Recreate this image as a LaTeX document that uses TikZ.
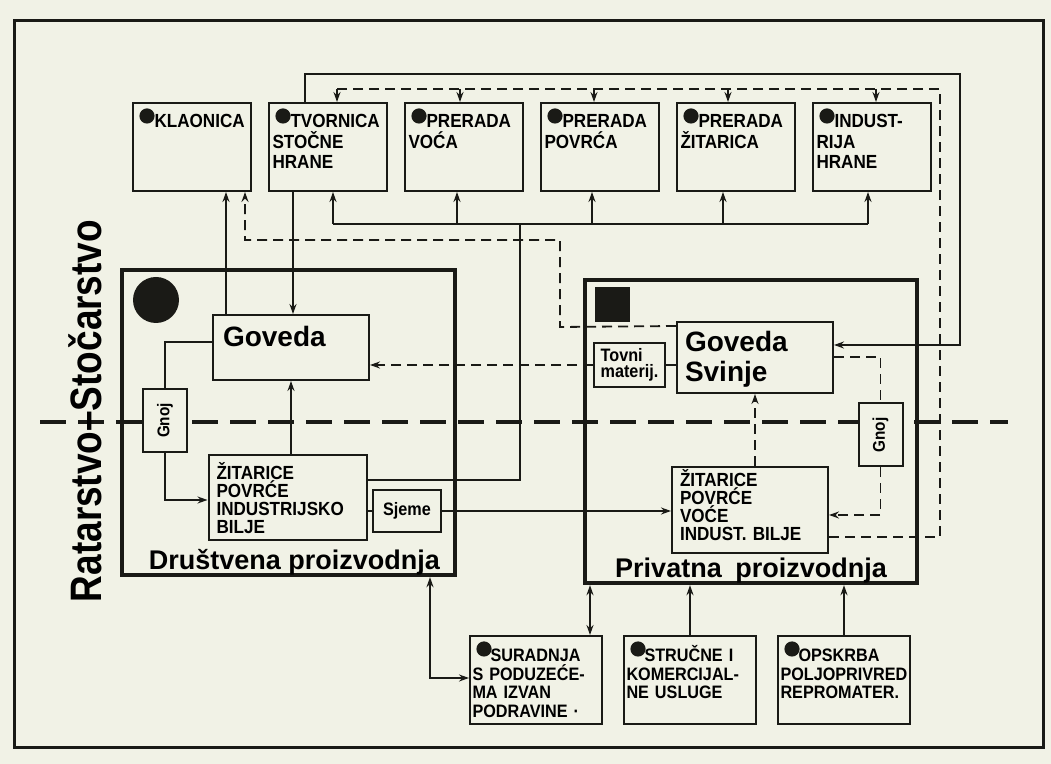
\documentclass[tikz,border=0pt]{standalone}
\usepackage{fontspec}
\setmainfont{Liberation Sans}
\newfontfamily\narrowsf[FakeStretch=0.9]{Liberation Sans}
\newfontfamily\tallsf[FakeStretch=0.84]{Liberation Sans}
\usepackage{xcolor}
\usetikzlibrary{arrows.meta,positioning,calc}
\definecolor{inkDark}  {RGB}{26,26,22}
\definecolor{paperTone}{RGB}{241,242,230}
\newcommand{\dotgap}{\hspace*{9pt}}

\begin{document}
\begin{tikzpicture}[x=0.5pt, y=-0.5pt,
      node distance=8pt and 8pt,
      withdot/.style={path picture={\fill[inkDark]
          ([xshift=7pt,yshift=-6.5pt]path picture bounding box.north west) circle (3.8pt);}},
      proc/.style={draw=inkDark, line width=1pt, withdot, align=left,
                   text width=55.5pt, inner xsep=1.75pt, inner ysep=2pt,
                   text height=10.5pt, text depth=29.5pt,
                   font=\narrowsf\bfseries\fontsize{9.5}{10.25}\selectfont},
      serv/.style={proc, text width=63.5pt, inner xsep=1.25pt,
                   text height=11pt, text depth=29pt,
                   font=\narrowsf\bfseries\fontsize{9}{9.25}\selectfont},
      herd/.style={draw=inkDark, line width=1pt, align=left, text width=68pt,
                   inner xsep=5pt, inner ysep=2pt,
                   font=\bfseries\fontsize{14}{15}\selectfont},
      crop/.style={draw=inkDark, line width=1pt, align=left, text width=71pt,
                   inner xsep=4pt, inner ysep=2pt,
                   font=\narrowsf\bfseries\fontsize{9.5}{9}\selectfont},
      heap/.style={draw=inkDark, line width=1pt, fill=paperTone, inner sep=0pt,
                   minimum width=22pt, minimum height=31.5pt,
                   font=\narrowsf\bfseries\fontsize{8.5}{10}\selectfont},
      small/.style={draw=inkDark, line width=1pt, inner sep=2pt, align=left,
                    font=\narrowsf\bfseries\fontsize{9}{8}\selectfont},
      sector/.style={draw=inkDark, line width=2.2pt, inner sep=0pt},
      title/.style={anchor=south, inner sep=1pt, font=\bfseries\fontsize{13.5}{15}\selectfont},
      link/.style={draw=inkDark, line width=0.9pt},
      dlink/.style={link, dash pattern=on 5pt off 3pt},
      tip/.style={-{Stealth[length=5pt,width=3.5pt]}},
      both/.style={{Stealth[length=5pt,width=3.5pt]}-{Stealth[length=5pt,width=3.5pt]}},
      divide/.style={draw=inkDark, line width=1.8pt, dash pattern=on 13pt off 6pt}]

    \path[use as bounding box, fill=paperTone] (0,0) rectangle (1051,764);
    \draw[inkDark, line width=1.5pt] (14,21) rectangle (1043,748);
    \draw[divide] (40,422) -- (1008,422);

    \node[rotate=90, inner sep=0pt, font=\tallsf\bfseries\fontsize{22}{24}\selectfont]
      (rs) at (85,411) {Ratarstvo–Stočarstvo};

    \node[proc] (kla) at (192,147) {\dotgap KLAONICA};
    \node[proc, right=of kla] (tvo) {\dotgap TVORNICA\\STOČNE\\HRANE};
    \node[proc, right=of tvo] (voc) {\dotgap PRERADA\\VOĆA};
    \node[proc, right=of voc] (pov) {\dotgap PRERADA\\POVRĆA};
    \node[proc, right=of pov] (zitp) {\dotgap PRERADA\\ŽITARICA};
    \node[proc, right=of zitp] (ind) {\dotgap INDUST-\\RIJA\\HRANE};

    \node[sector, minimum width=166.5pt, minimum height=152.5pt,
          label={[title, xshift=3pt]south:Društvena proizvodnja}] (drus) at (288.5,422.5) {};
    \node[sector, minimum width=166pt, minimum height=151.5pt,
          label={[title]south:Privatna\enspace proizvodnja}] (priv) at (751,431.5) {};
    \fill[inkDark] (156,300) circle (11.5pt);
    \fill[inkDark] (595,287) rectangle (630,322);

    \node[herd, text height=14pt, text depth=14.5pt] (gov1) at (291,347.5) {Goveda};
    \node[herd, inner xsep=4pt, text width=70pt, text height=13pt, text depth=18.5pt]
      (gov2) at (755,357.5) {Goveda\\Svinje};
    \node[heap] (gnoj1) at (165,420.5) {\rotatebox{90}{Gnoj}};
    \node[heap] (gnoj2) at (880.5,435) {\rotatebox{90}{Gnoj}};
    \node[crop, text height=10.5pt, text depth=28pt] (zit1) at (287.5,497.5)
      {ŽITARICE\\POVRĆE\\INDUSTRIJSKO\\BILJE};
    \node[crop, text width=70pt, text height=8pt, text depth=31pt] (zit2) at (750,510)
      {ŽITARICE\\POVRĆE\\VOĆE\\INDUST. BILJE};
    \node[small, minimum width=34pt, minimum height=21pt] (sjeme) at (407,511) {Sjeme};
    \node[small, minimum width=35.5pt, minimum height=22pt] (tovni) at (629.5,365) {Tovni\\materij.};

    \node[serv] (sur) at (536,680) {\dotgap SURADNJA\\S PODUZEĆE-\\MA IZVAN\\PODRAVINE ·};
    \node[serv, right=10pt of sur] (str) {\dotgap STRUČNE I\\KOMERCIJAL-\\NE USLUGE};
    \node[serv, right=10pt of str] (ops) {\dotgap OPSKRBA\\POLJOPRIVRED\\REPROMATER.};

    \draw[link, tip] (226,0 |- gov1.north) -- (226,0 |- kla.south);
    \draw[dlink, tip] ([yshift=-2.5pt]gov2.north west) -- (560,327) -- (560,240)
      -- (245,240) -- (245,0 |- kla.south);
    \draw[link, tip] (293,0 |- tvo.south) -- (293,0 |- gov1.north);
    \draw[link, tip] (305,0 |- tvo.north) -- (305,74) -- (960,74) -- (960,345)
      -- (gov2.east |- 0,345);

    \draw[dlink] (zit2.east |- 0,537) -- (940,537) -- (940,89) -- (337,89);
    \foreach \tgt/\xx in {tvo/337, voc/460, pov/594, zitp/728, ind/876}
      \draw[link, tip] (\xx,89) -- (\xx,0 |- \tgt.north);

    \draw[link] (zit1.east |- 0,480) -- (520,480) -- (520,224);
    \draw[link] (333,224) -- (868,224);
    \foreach \tgt/\xx in {tvo/333, voc/457, pov/592, zitp/723, ind/868}
      \draw[link, tip] (\xx,224) -- (\xx,0 |- \tgt.south);

    \draw[link] (gov1.west |- 0,342) -| (gnoj1.north);
    \draw[link, tip] (gnoj1.south) |- (zit1.west |- 0,500);
    \draw[link, tip] (gov1.south |- zit1.north) -- (gov1.south);
    \draw[link] (zit1.east |- sjeme.west) -- (sjeme.west);
    \draw[link, tip] (sjeme.east) -- (zit2.west |- sjeme.east);

    \draw[dlink, tip] (tovni.west) -- (gov1.east |- tovni.west);
    \draw[link] (tovni.east) -- (gov2.west |- tovni.east);
    \draw[dlink] (gov2.east |- 0,357) -| (gnoj2.north);
    \draw[dlink, tip] (gnoj2.south) |- (zit2.east |- 0,515);
    \draw[dlink, tip] (gov2.south |- zit2.north) -- (gov2.south);

    \draw[link, both] (590,0 |- sur.north) -- (590,0 |- priv.south);
    \draw[link, both] (sur.west |- 0,678) -| (430,0 |- drus.south);
    \draw[link, tip] (str.north) -- (str.north |- priv.south);
    \draw[link, tip] (ops.north) -- (ops.north |- priv.south);
  \end{tikzpicture}
\end{document}
